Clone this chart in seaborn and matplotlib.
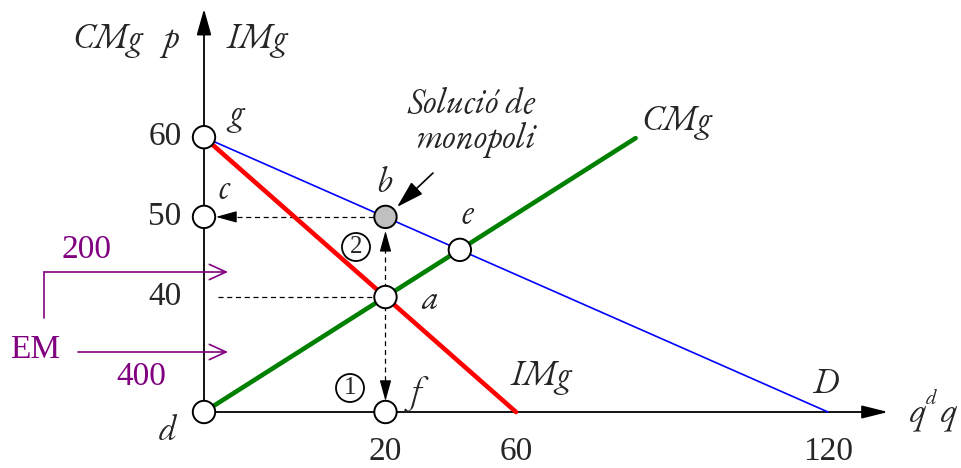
import matplotlib
matplotlib.use("Agg")
import matplotlib.pyplot as plt
import seaborn as sns
import pandas as pd

# ---------------- data (drawing units of the schematic) ----------------
demand_q = [0, 120]
demand_p = [60, 0]
img_q = [0, 60]
img_p = [60, 0]
cmg_q = [0, 83]
cmg_p = [0, 59.8]

q_tick_pos = [34.9, 60, 120]
q_tick_labels = ["20", "60", "120"]
p_tick_pos = [60, 42.6, 25.1]
p_tick_labels = ["60", "50", "40"]

point_names = ["g", "c", "b", "e", "a", "f", "d"]
point_q = [0, 0, 34.9, 49.2, 34.9, 34.9, 0]
point_p = [60, 42.6, 42.6, 35.4, 25.1, 0, 0]
point_fill = ["white", "white", "#c0c0c0", "white", "white", "white", "white"]

em_labels = ["200", "400"]
step_labels = ["1", "2"]

# ---------------- figure ----------------
sns.set_theme(style="white")
plt.rcParams["font.family"] = ["EB Garamond", "Liberation Serif", "DejaVu Serif"]

XS, YS = 5.2, 4.58          # px per unit
OX, OY = 204, 412           # origin in px
W, H = 961, 468

fig = plt.figure(figsize=(W / 100, H / 100), dpi=100)
ax = fig.add_axes([0, 0, 1, 1])
ax.set_xlim(-OX / XS, (W - OX) / XS)
ax.set_ylim((OY - H) / YS, OY / YS)
ax.axis("off")


def P(x, y):
    return ((x - OX) / XS, (OY - y) / YS)


def dx(px):
    return px / XS


def dy(px):
    return px / YS


NUMF = ["Liberation Serif", "DejaVu Serif"]
FS = 24
ITS = 25
purple = "#800080"

# axes with arrows
ax.annotate("", xy=(0, dy(OY - 9)), xytext=(0, 0),
            arrowprops=dict(arrowstyle="-|>,head_length=16,head_width=4.5",
                            mutation_scale=1, lw=1.3, color="black",
                            shrinkA=0, shrinkB=0))
ax.annotate("", xy=(dx(888 - OX), 0), xytext=(0, 0),
            arrowprops=dict(arrowstyle="-|>,head_length=16,head_width=4",
                            mutation_scale=1, lw=1.3, color="black",
                            shrinkA=0, shrinkB=0))

# curves
sns.lineplot(x=demand_q, y=demand_p, ax=ax, color="#0000ff", lw=1.2, sort=False, zorder=3)
sns.lineplot(x=img_q, y=img_p, ax=ax, color="#ff0000", lw=3.3, sort=False, zorder=3)
sns.lineplot(x=cmg_q, y=cmg_p, ax=ax, color="#008000", lw=3.3, sort=False, zorder=3)

# dashed guides
qa, pa = point_q[4], point_p[4]
qb, pb = point_q[2], point_p[2]
dash = dict(color="black", lw=0.9, ls=(0, (4, 3)), zorder=2)
ax.plot([dx(14), qa], [pa, pa], **dash)
ax.plot([dx(33), qb], [pb, pb], **dash)
ax.plot([qa, qa], [pa, pb - dy(24)], **dash)
ax.plot([qa, qa], [pa, dy(28)], **dash)


def head(tip, base):
    ax.annotate("", xy=tip, xytext=base,
                arrowprops=dict(arrowstyle="-|>,head_length=13,head_width=3.6",
                                mutation_scale=1, lw=0.8, color="black",
                                shrinkA=0, shrinkB=0), zorder=4)


head((dx(12), pb), (dx(31), pb))
head((qa, pb - dy(14)), (qa, pb - dy(32)))
head((qa, dy(11)), (qa, dy(29)))

# arrow to b
ax.annotate("", xy=P(397, 207), xytext=P(433, 173),
            arrowprops=dict(arrowstyle="-|>,head_length=17,head_width=5",
                            mutation_scale=1, lw=1.2, color="black",
                            shrinkA=0, shrinkB=0))

# points
sns.scatterplot(x=point_q, y=point_p, ax=ax, s=260, c=point_fill,
                edgecolor="black", linewidth=1.4, zorder=6, legend=False)

# tick labels
for pos, lab in zip(q_tick_pos, q_tick_labels):
    ax.text(pos, dy(OY - 452), lab, fontsize=FS, family=NUMF, ha="center", va="center")
for pos, lab in zip(p_tick_pos, p_tick_labels):
    ax.text(dx(-39), pos, lab, fontsize=FS, family=NUMF, ha="center", va="center")

# point labels
lab_px = {"g": (237, 123), "c": (224, 198), "b": (384, 192), "e": (467, 223),
          "a": (430, 309), "f": (416, 402), "d": (168, 440)}
for n in point_names:
    ax.text(*P(*lab_px[n]), n, fontsize=ITS, style="italic", ha="center", va="baseline")

# curve / axis labels
it = dict(fontsize=ITS, style="italic", ha="center", va="baseline")
ax.text(*P(108, 48), "CMg", **it)
ax.text(*P(171, 48), "p", **it)
ax.text(*P(257, 48), "IMg", **it)
ax.text(*P(677, 130), "CMg", **it)
ax.text(*P(541, 385), "IMg", **it)
ax.text(*P(825, 393), "D", **it)
ax.text(*P(472, 113), "Solució de", **it)
ax.text(*P(475, 148), "monopoli", **it)
ax.text(*P(918, 421), "q", **it)
ax.text(*P(931, 404), "d", fontsize=15, style="italic", ha="center", va="baseline")
ax.text(*P(949, 421), "q", **it)

# circled step numbers
for (sx, sy), lab in zip([(350, 388), (356, 247)], step_labels):
    ax.text(*P(sx, sy), lab, fontsize=18, family=NUMF, ha="center", va="center",
            bbox=dict(boxstyle="circle,pad=0.12", fc="none", ec="black", lw=1.3))

# EM purple arrows
ax.plot([dx(44 - OX), dx(44 - OX)], [dy(OY - 318), dy(OY - 272)], color=purple, lw=1.2)
ax.annotate("", xy=P(228, 272), xytext=P(44, 272),
            arrowprops=dict(arrowstyle="->,head_length=12,head_width=5.5",
                            mutation_scale=1, lw=1.2, color=purple,
                            shrinkA=0, shrinkB=0))
ax.annotate("", xy=P(228, 352), xytext=P(78, 352),
            arrowprops=dict(arrowstyle="->,head_length=12,head_width=5.5",
                            mutation_scale=1, lw=1.2, color=purple,
                            shrinkA=0, shrinkB=0))
ax.text(*P(87, 250), em_labels[0], fontsize=FS, family=NUMF, color=purple, ha="center", va="center")
ax.text(*P(141, 377), em_labels[1], fontsize=FS, family=NUMF, color=purple, ha="center", va="center")
ax.text(*P(35, 350), "EM", fontsize=FS, family=NUMF, color=purple, ha="center", va="center")

fig.savefig("out.png", dpi=100)
